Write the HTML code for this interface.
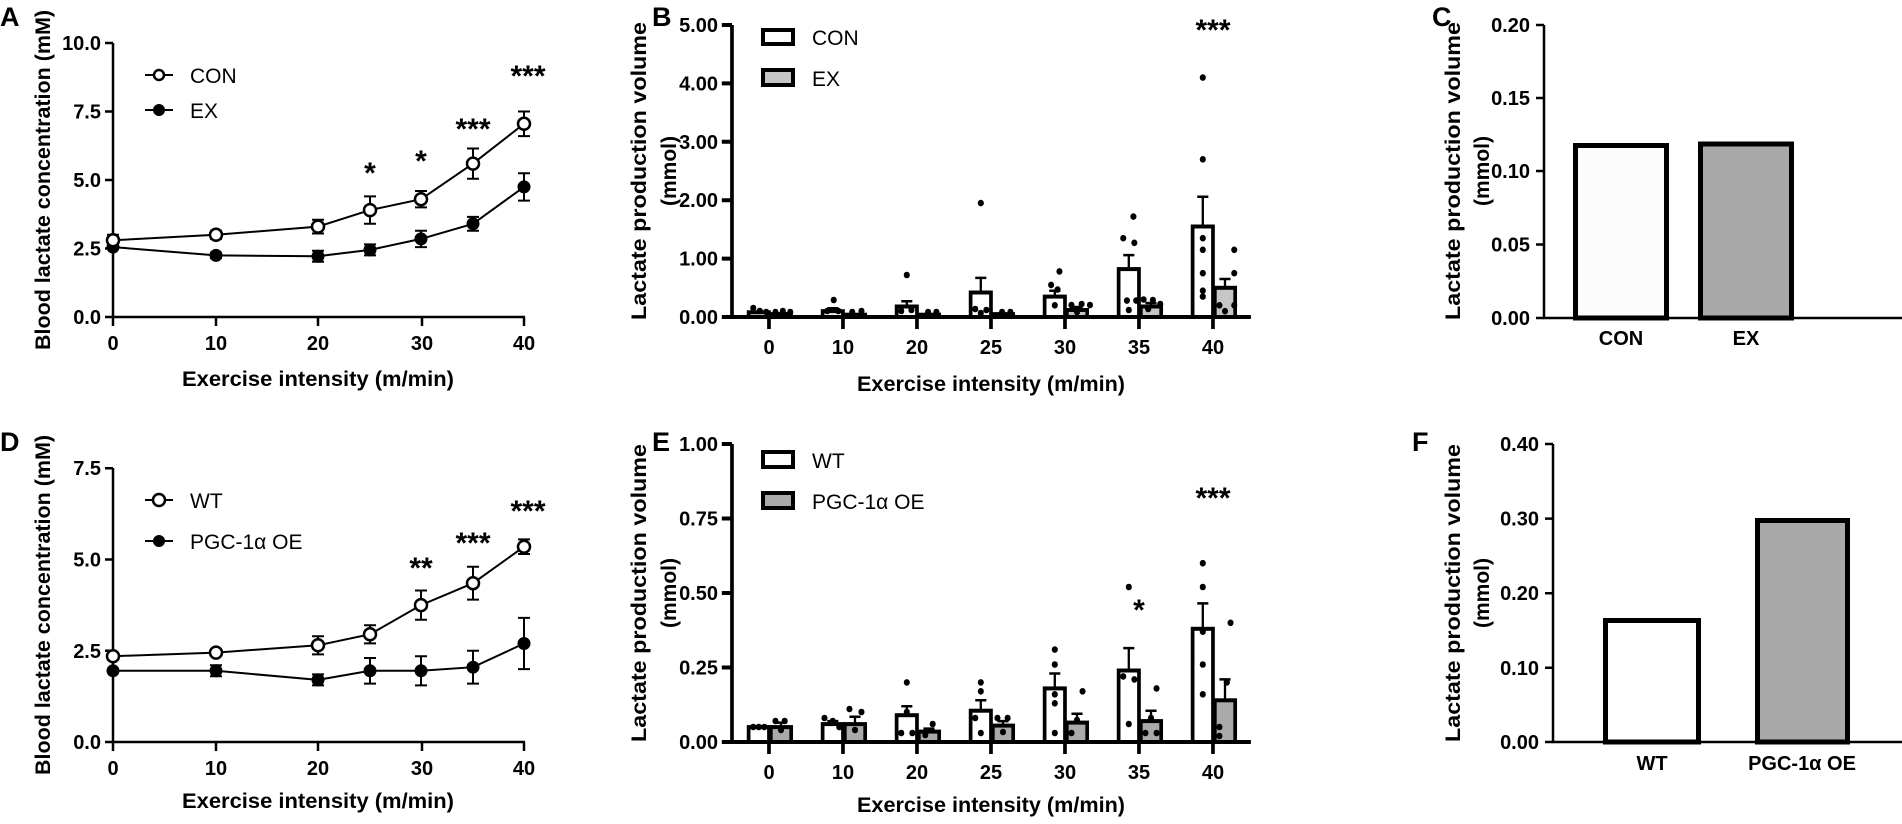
<!DOCTYPE html>
<html><head><meta charset="utf-8"><style>
html,body{margin:0;padding:0;background:#fff;width:1902px;height:824px;overflow:hidden}
svg{display:block}
text{font-family:"Liberation Sans",Arial,sans-serif;fill:#000}
.tk{font-weight:bold;font-size:20px}
.ti{font-weight:bold;font-size:21px}
.lg{font-size:21px}
.st{font-weight:bold;font-size:30px}
.pl{font-weight:bold;font-size:27px}
</style></head><body>
<svg width="1902" height="824" viewBox="0 0 1902 824" xmlns="http://www.w3.org/2000/svg">
<!-- ===== Panel A ===== -->
<text class="pl" x="0" y="26">A</text>
<text class="ti" transform="translate(50,180) rotate(-90)" text-anchor="middle" textLength="340" lengthAdjust="spacingAndGlyphs">Blood lactate concentration (mM)</text>
<g stroke="#000" stroke-width="2.5" fill="none">
<path d="M113,43V317H525"/>
<path d="M105,43H113M105,111.5H113M105,180H113M105,248.5H113M105,317H113"/>
<path d="M113,317v9M216,317v9M318,317v9M422,317v9M524,317v9"/>
</g>
<g class="tk" text-anchor="end">
<text x="101" y="50">10.0</text><text x="101" y="118.5">7.5</text><text x="101" y="187">5.0</text><text x="101" y="255.5">2.5</text><text x="101" y="324">0.0</text>
</g>
<g class="tk" text-anchor="middle">
<text x="113" y="350">0</text><text x="216" y="350">10</text><text x="318" y="350">20</text><text x="422" y="350">30</text><text x="524" y="350">40</text>
</g>
<text class="ti" x="318" y="386" text-anchor="middle" textLength="272" lengthAdjust="spacingAndGlyphs">Exercise intensity (m/min)</text>
<g stroke="#000" stroke-width="2" fill="none">
<path d="M113,240.3L216,234.8L318,226.6L370,210.1L421,199.2L473,163.6L524,123.8"/>
<path d="M113,247.1L216,255.4L318,256.2L370,249.9L421,238.9L473,223.8L524,186.9"/>
<path d="M113,234.8v11M107,234.8h12M107,245.8h12 M216,230.7v8.2M210,230.7h12M210,238.9h12 M318,219.7v13.8M312,219.7h12M312,233.5h12 M370,196.4v27.4M364,196.4h12M364,223.8h12 M421,191v16.4M415,191h12M415,207.4h12 M473,148.5v30.2M467,148.5h12M467,178.7h12 M524,111.5v24.6M518,111.5h12M518,136.1h12"/>
<path d="M216,252.7v5.4M210,252.7h12M210,258.1h12 M318,250.7v11M312,250.7h12M312,261.7h12 M370,244.4v11M364,244.4h12M364,255.4h12 M421,230.7v16.4M415,230.7h12M415,247.1h12 M473,216.9v13.8M467,216.9h12M467,230.7h12 M524,173.2v27.4M518,173.2h12M518,200.6h12"/>
</g>
<g fill="#000"><circle cx="113" cy="247.1" r="6.5"/><circle cx="216" cy="255.4" r="6.5"/><circle cx="318" cy="256.2" r="6.5"/><circle cx="370" cy="249.9" r="6.5"/><circle cx="421" cy="238.9" r="6.5"/><circle cx="473" cy="223.8" r="6.5"/><circle cx="524" cy="186.9" r="6.5"/></g>
<g fill="#fff" stroke="#000" stroke-width="2.5"><circle cx="113" cy="240.3" r="6"/><circle cx="216" cy="234.8" r="6"/><circle cx="318" cy="226.6" r="6"/><circle cx="370" cy="210.1" r="6"/><circle cx="421" cy="199.2" r="6"/><circle cx="473" cy="163.6" r="6"/><circle cx="524" cy="123.8" r="6"/></g>
<path d="M145,75H173M145,110H173" stroke="#000" stroke-width="2"/>
<circle cx="159" cy="75" r="5" fill="#fff" stroke="#000" stroke-width="2.5"/><circle cx="159" cy="110" r="6" fill="#000"/>
<text class="lg" x="190" y="83">CON</text><text class="lg" x="190" y="118">EX</text>
<g class="st" text-anchor="middle"><text x="370" y="183">*</text><text x="421" y="171">*</text><text x="473" y="139">***</text><text x="528" y="86">***</text></g>

<!-- ===== Panel B ===== -->
<text class="pl" x="652" y="26">B</text>
<text class="ti" transform="translate(646,171) rotate(-90)" text-anchor="middle" textLength="298" lengthAdjust="spacingAndGlyphs">Lactate production volume</text>
<text class="ti" transform="translate(676,171) rotate(-90)" text-anchor="middle">(mmol)</text>
<g transform="matrix(0.925,0,0,1,26.2,0)">
<g stroke="#000" stroke-width="4" fill="none">
<path d="M763,25V317H1324"/>
<path d="M752,25H763M752,83.4H763M752,141.8H763M752,200.2H763M752,258.6H763M752,317H763"/>
<path d="M803,317v12M883,317v12M963,317v12M1043,317v12M1123,317v12M1203,317v12M1283,317v12"/>
</g>
<g stroke="#000" stroke-width="4" fill="#fff">
<rect x="781" y="312.3" width="22" height="4.7"/><rect x="861" y="311.2" width="22" height="5.8"/><rect x="941" y="306.5" width="22" height="10.5"/><rect x="1021" y="292.5" width="22" height="24.5"/><rect x="1101" y="296.6" width="22" height="20.4"/><rect x="1181" y="269.1" width="22" height="47.9"/><rect x="1261" y="226.5" width="22" height="90.5"/>
</g>
<g stroke="#000" stroke-width="4" fill="#c6c6c6">
<rect x="805" y="314.1" width="22" height="2.9"/><rect x="885" y="314.7" width="22" height="2.3"/><rect x="965" y="314.7" width="22" height="2.3"/><rect x="1045" y="314.1" width="22" height="2.9"/><rect x="1125" y="310" width="22" height="7"/><rect x="1205" y="306.5" width="22" height="10.5"/><rect x="1285" y="287.8" width="22" height="29.2"/>
</g>
<g stroke="#000" stroke-width="2.5">
<path d="M872,308.2v3M866,308.2h12 M952,301.2v5M946,301.2h12 M1032,277.9v14.6M1026,277.9h12 M1112,290.7v6M1106,290.7h12 M1192,255.1v14M1186,255.1h12 M1272,196.7v29.8M1266,196.7h12"/>
<path d="M1136,307v3M1130,307h12 M1216,303v3.5M1210,303h12 M1296,279v8.8M1290,279h12"/>
</g>
<g fill="#000">
<circle cx="786" cy="308" r="3.3"/><circle cx="793" cy="311" r="3.3"/><circle cx="800" cy="312" r="3.3"/><circle cx="810" cy="312" r="3.3"/><circle cx="818" cy="311" r="3.3"/><circle cx="826" cy="312" r="3.3"/>
<circle cx="873" cy="300" r="3.3"/><circle cx="866" cy="311" r="3.3"/><circle cx="878" cy="311" r="3.3"/><circle cx="893" cy="312" r="3.3"/><circle cx="903" cy="311" r="3.3"/>
<circle cx="952" cy="275" r="3.3"/><circle cx="946" cy="311" r="3.3"/><circle cx="957" cy="310" r="3.3"/><circle cx="975" cy="312" r="3.3"/><circle cx="984" cy="312" r="3.3"/>
<circle cx="1032" cy="203.1" r="3.3"/><circle cx="1026" cy="309" r="3.3"/><circle cx="1038" cy="310" r="3.3"/><circle cx="1032" cy="313" r="3.3"/><circle cx="1055" cy="312" r="3.3"/><circle cx="1064" cy="312" r="3.3"/>
<circle cx="1117" cy="271.4" r="3.3"/><circle cx="1108" cy="284.9" r="3.3"/><circle cx="1115" cy="289.6" r="3.3"/><circle cx="1112" cy="305.3" r="3.3"/><circle cx="1130" cy="305" r="3.3"/><circle cx="1141" cy="304" r="3.3"/><circle cx="1150" cy="305" r="3.3"/><circle cx="1136" cy="312" r="3.3"/>
<circle cx="1197" cy="216.6" r="3.3"/><circle cx="1186" cy="238.2" r="3.3"/><circle cx="1198" cy="242.8" r="3.3"/><circle cx="1190" cy="300.6" r="3.3"/><circle cx="1200" cy="300.6" r="3.3"/><circle cx="1192" cy="310" r="3.3"/><circle cx="1208" cy="299.5" r="3.3"/><circle cx="1218" cy="300" r="3.3"/><circle cx="1226" cy="304" r="3.3"/><circle cx="1213" cy="309" r="3.3"/>
<circle cx="1272" cy="77.6" r="3.3"/><circle cx="1272" cy="159.3" r="3.3"/><circle cx="1272" cy="238.2" r="3.3"/><circle cx="1272" cy="249.8" r="3.3"/><circle cx="1272" cy="273.2" r="3.3"/><circle cx="1272" cy="290.7" r="3.3"/><circle cx="1272" cy="296.6" r="3.3"/>
<circle cx="1306" cy="249.8" r="3.3"/><circle cx="1306" cy="273.2" r="3.3"/><circle cx="1290" cy="305.3" r="3.3"/><circle cx="1306" cy="305.3" r="3.3"/><circle cx="1296" cy="311.2" r="3.3"/>
</g>
</g>
<g class="tk" text-anchor="end">
<text x="718" y="32">5.00</text><text x="718" y="90.4">4.00</text><text x="718" y="148.8">3.00</text><text x="718" y="207.2">2.00</text><text x="718" y="265.6">1.00</text><text x="718" y="324">0.00</text>
</g>
<g class="tk" text-anchor="middle">
<text x="769" y="354">0</text><text x="843" y="354">10</text><text x="917" y="354">20</text><text x="991" y="354">25</text><text x="1065" y="354">30</text><text x="1139" y="354">35</text><text x="1213" y="354">40</text>
</g>
<text class="ti" x="991" y="391" text-anchor="middle" textLength="268" lengthAdjust="spacingAndGlyphs">Exercise intensity (m/min)</text>
<rect x="763" y="30" width="30" height="14" fill="#fff" stroke="#000" stroke-width="4"/>
<rect x="763" y="70" width="30" height="15" fill="#c6c6c6" stroke="#000" stroke-width="4"/>
<text class="lg" x="812" y="45">CON</text><text class="lg" x="812" y="86">EX</text>
<text class="st" x="1213" y="40" text-anchor="middle">***</text>

<!-- ===== Panel C ===== -->
<text class="pl" x="1432" y="26">C</text>
<text class="ti" transform="translate(1460,171) rotate(-90)" text-anchor="middle" textLength="298" lengthAdjust="spacingAndGlyphs">Lactate production volume</text>
<text class="ti" transform="translate(1489,171) rotate(-90)" text-anchor="middle">(mmol)</text>
<g stroke="#000" stroke-width="2.5" fill="none">
<path d="M1544,25V318H1902"/>
<path d="M1536,25H1544M1536,98H1544M1536,171H1544M1536,244.5H1544M1536,318H1544"/>
</g>
<g class="tk" text-anchor="end">
<text x="1530" y="32">0.20</text><text x="1530" y="105">0.15</text><text x="1530" y="178">0.10</text><text x="1530" y="251.5">0.05</text><text x="1530" y="325">0.00</text>
</g>
<rect x="1575.5" y="145.5" width="91" height="172.5" fill="#fcfcfc" stroke="#000" stroke-width="5"/>
<rect x="1700.5" y="144" width="91" height="174" fill="#a9a9a9" stroke="#000" stroke-width="5"/>
<text class="tk" x="1621" y="345" text-anchor="middle">CON</text><text class="tk" x="1746" y="345" text-anchor="middle">EX</text>

<!-- ===== Panel D ===== -->
<text class="pl" x="0" y="451">D</text>
<text class="ti" transform="translate(50,605) rotate(-90)" text-anchor="middle" textLength="340" lengthAdjust="spacingAndGlyphs">Blood lactate concentration (mM)</text>
<g stroke="#000" stroke-width="2.5" fill="none">
<path d="M113,468V742H525"/>
<path d="M105,468.25H113M105,559.5H113M105,650.75H113M105,742H113"/>
<path d="M113,742v9M216,742v9M318,742v9M422,742v9M524,742v9"/>
</g>
<g class="tk" text-anchor="end">
<text x="101" y="475">7.5</text><text x="101" y="566.5">5.0</text><text x="101" y="657.75">2.5</text><text x="101" y="749">0.0</text>
</g>
<g class="tk" text-anchor="middle">
<text x="113" y="775">0</text><text x="216" y="775">10</text><text x="318" y="775">20</text><text x="422" y="775">30</text><text x="524" y="775">40</text>
</g>
<text class="ti" x="318" y="808" text-anchor="middle" textLength="272" lengthAdjust="spacingAndGlyphs">Exercise intensity (m/min)</text>
<g stroke="#000" stroke-width="2" fill="none">
<path d="M113,656.2L216,652.6L318,645.3L370,634.3L421,605.1L473,583.2L524,546.7"/>
<path d="M113,670.8L216,670.8L318,679.9L370,670.8L421,670.8L473,667.2L524,643.5"/>
<path d="M318,636.2v18.2M312,636.2h12M312,654.4h12 M370,625.2v18.2M364,625.2h12M364,643.4h12 M421,590.5v29.2M415,590.5h12M415,619.7h12 M473,566.8v32.8M467,566.8h12M467,599.6h12 M524,539.4v14.6M518,539.4h12M518,554h12"/>
<path d="M216,665.3v11M210,665.3h12M210,676.3h12 M318,674.4v11M312,674.4h12M312,685.4h12 M370,658v25.6M364,658h12M364,683.6h12 M421,656.2v29.2M415,656.2h12M415,685.4h12 M473,650.8v32.8M467,650.8h12M467,683.6h12 M524,617.9v51.2M518,617.9h12M518,669.1h12"/>
</g>
<g fill="#000"><circle cx="113" cy="670.8" r="6.5"/><circle cx="216" cy="670.8" r="6.5"/><circle cx="318" cy="679.9" r="6.5"/><circle cx="370" cy="670.8" r="6.5"/><circle cx="421" cy="670.8" r="6.5"/><circle cx="473" cy="667.2" r="6.5"/><circle cx="524" cy="643.5" r="6.5"/></g>
<g fill="#fff" stroke="#000" stroke-width="2.5"><circle cx="113" cy="656.2" r="6"/><circle cx="216" cy="652.6" r="6"/><circle cx="318" cy="645.3" r="6"/><circle cx="370" cy="634.3" r="6"/><circle cx="421" cy="605.1" r="6"/><circle cx="473" cy="583.2" r="6"/><circle cx="524" cy="546.7" r="6"/></g>
<path d="M145,500H173M145,541H173" stroke="#000" stroke-width="2"/>
<circle cx="159" cy="500" r="6" fill="#fff" stroke="#000" stroke-width="2.5"/><circle cx="159" cy="541" r="6" fill="#000"/>
<text class="lg" x="190" y="508">WT</text><text class="lg" x="190" y="549">PGC-1α OE</text>
<g class="st" text-anchor="middle"><text x="421" y="578">**</text><text x="473" y="553">***</text><text x="528" y="521">***</text></g>

<!-- ===== Panel E ===== -->
<text class="pl" x="652" y="451">E</text>
<text class="ti" transform="translate(646,593) rotate(-90)" text-anchor="middle" textLength="298" lengthAdjust="spacingAndGlyphs">Lactate production volume</text>
<text class="ti" transform="translate(676,593) rotate(-90)" text-anchor="middle">(mmol)</text>
<g transform="matrix(0.925,0,0,1,26.2,0)">
<g stroke="#000" stroke-width="4" fill="none">
<path d="M763,444V742H1324"/>
<path d="M752,444H763M752,518.5H763M752,593H763M752,667.5H763M752,742H763"/>
<path d="M803,742v12M883,742v12M963,742v12M1043,742v12M1123,742v12M1203,742v12M1283,742v12"/>
</g>
<g stroke="#000" stroke-width="4" fill="#fff">
<rect x="781" y="727.1" width="22" height="14.9"/><rect x="861" y="724.1" width="22" height="17.9"/><rect x="941" y="715.2" width="22" height="26.8"/><rect x="1021" y="710.7" width="22" height="31.3"/><rect x="1101" y="688.4" width="22" height="53.6"/><rect x="1181" y="670.5" width="22" height="71.5"/><rect x="1261" y="628.8" width="22" height="113.2"/>
</g>
<g stroke="#000" stroke-width="4" fill="#aaa">
<rect x="805" y="727.1" width="22" height="14.9"/><rect x="885" y="724.1" width="22" height="17.9"/><rect x="965" y="731.6" width="22" height="10.4"/><rect x="1045" y="725.6" width="22" height="16.4"/><rect x="1125" y="722.6" width="22" height="19.4"/><rect x="1205" y="721.1" width="22" height="20.9"/><rect x="1285" y="700.3" width="22" height="41.7"/>
</g>
<g stroke="#000" stroke-width="2.5">
<path d="M872,721.1v3M866,721.1h12 M952,706.2v9M946,706.2h12 M1032,700.3v10.4M1026,700.3h12 M1112,673.5v14.9M1106,673.5h12 M1192,648.1v22.4M1186,648.1h12 M1272,603.4v25.4M1266,603.4h12"/>
<path d="M816,722.6v4.5M810,722.6h12 M896,716.7v7.4M890,716.7h12 M976,728.6v3M970,728.6h12 M1056,721.1v4.5M1050,721.1h12 M1136,713.7v8.9M1130,713.7h12 M1216,710.7v10.4M1210,710.7h12 M1296,679.4v20.9M1290,679.4h12"/>
</g>
<g fill="#000">
<circle cx="786" cy="727" r="3.3"/><circle cx="792" cy="727" r="3.3"/><circle cx="798" cy="727" r="3.3"/>
<circle cx="810" cy="721" r="3.3"/><circle cx="820" cy="721" r="3.3"/><circle cx="816" cy="730" r="3.3"/>
<circle cx="863" cy="718" r="3.3"/><circle cx="872" cy="721" r="3.3"/><circle cx="879" cy="727" r="3.3"/>
<circle cx="890" cy="709" r="3.3"/><circle cx="903" cy="712" r="3.3"/><circle cx="896" cy="730" r="3.3"/>
<circle cx="952" cy="682.4" r="3.3"/><circle cx="952" cy="712" r="3.3"/><circle cx="946" cy="733" r="3.3"/><circle cx="958" cy="733" r="3.3"/>
<circle cx="980" cy="724" r="3.3"/><circle cx="972" cy="735" r="3.3"/>
<circle cx="1032" cy="682.4" r="3.3"/><circle cx="1032" cy="691.3" r="3.3"/><circle cx="1026" cy="718" r="3.3"/><circle cx="1032" cy="733" r="3.3"/>
<circle cx="1050" cy="718" r="3.3"/><circle cx="1061" cy="718" r="3.3"/><circle cx="1056" cy="732" r="3.3"/>
<circle cx="1112" cy="649.6" r="3.3"/><circle cx="1112" cy="664.5" r="3.3"/><circle cx="1112" cy="694.3" r="3.3"/><circle cx="1112" cy="703.3" r="3.3"/><circle cx="1112" cy="733" r="3.3"/>
<circle cx="1142" cy="691.3" r="3.3"/><circle cx="1136" cy="720" r="3.3"/><circle cx="1130" cy="733" r="3.3"/>
<circle cx="1192" cy="587" r="3.3"/><circle cx="1186" cy="676.4" r="3.3"/><circle cx="1198" cy="679.4" r="3.3"/><circle cx="1192" cy="724" r="3.3"/>
<circle cx="1222" cy="688.4" r="3.3"/><circle cx="1216" cy="718" r="3.3"/><circle cx="1210" cy="733" r="3.3"/><circle cx="1222" cy="733" r="3.3"/>
<circle cx="1272" cy="563.2" r="3.3"/><circle cx="1272" cy="587" r="3.3"/><circle cx="1272" cy="631.7" r="3.3"/><circle cx="1272" cy="664.5" r="3.3"/><circle cx="1272" cy="694.3" r="3.3"/>
<circle cx="1302" cy="622.8" r="3.3"/><circle cx="1298" cy="682.4" r="3.3"/><circle cx="1290" cy="727" r="3.3"/><circle cx="1290" cy="736" r="3.3"/>
</g>
</g>
<g class="tk" text-anchor="end">
<text x="718" y="451">1.00</text><text x="718" y="525.5">0.75</text><text x="718" y="600">0.50</text><text x="718" y="674.5">0.25</text><text x="718" y="749">0.00</text>
</g>
<g class="tk" text-anchor="middle">
<text x="769" y="779">0</text><text x="843" y="779">10</text><text x="917" y="779">20</text><text x="991" y="779">25</text><text x="1065" y="779">30</text><text x="1139" y="779">35</text><text x="1213" y="779">40</text>
</g>
<text class="ti" x="991" y="812" text-anchor="middle" textLength="268" lengthAdjust="spacingAndGlyphs">Exercise intensity (m/min)</text>
<rect x="763" y="452" width="30" height="15" fill="#fff" stroke="#000" stroke-width="4"/>
<rect x="763" y="493" width="30" height="15" fill="#aaa" stroke="#000" stroke-width="4"/>
<text class="lg" x="812" y="468">WT</text><text class="lg" x="812" y="509">PGC-1α OE</text>
<g class="st" text-anchor="middle"><text x="1139" y="620">*</text><text x="1213" y="508">***</text></g>

<!-- ===== Panel F ===== -->
<text class="pl" x="1412" y="451">F</text>
<text class="ti" transform="translate(1460,593) rotate(-90)" text-anchor="middle" textLength="298" lengthAdjust="spacingAndGlyphs">Lactate production volume</text>
<text class="ti" transform="translate(1489,593) rotate(-90)" text-anchor="middle">(mmol)</text>
<g stroke="#000" stroke-width="2.5" fill="none">
<path d="M1553,444V742H1902"/>
<path d="M1545,444H1553M1545,518.6H1553M1545,593.2H1553M1545,667.8H1553M1545,742H1553"/>
</g>
<g class="tk" text-anchor="end">
<text x="1539" y="451">0.40</text><text x="1539" y="525.6">0.30</text><text x="1539" y="600.2">0.20</text><text x="1539" y="674.8">0.10</text><text x="1539" y="749">0.00</text>
</g>
<rect x="1605.5" y="620.5" width="93" height="121.5" fill="#fff" stroke="#000" stroke-width="5"/>
<rect x="1757.5" y="520.5" width="90" height="221.5" fill="#a9a9a9" stroke="#000" stroke-width="5"/>
<text class="tk" x="1652" y="770" text-anchor="middle">WT</text><text class="tk" x="1802" y="770" text-anchor="middle">PGC-1α OE</text>
</svg>
</body></html>
